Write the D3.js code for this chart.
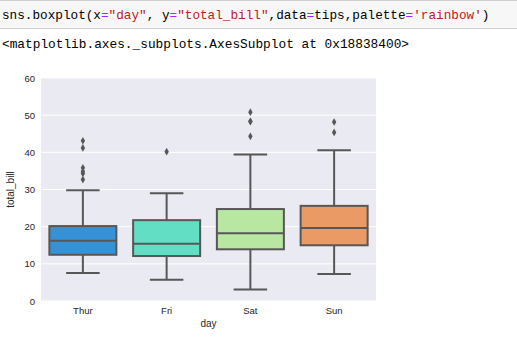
<!DOCTYPE html>
<html>
<head>
<meta charset="utf-8">
<script src="https://cdn.jsdelivr.net/npm/d3@7"></script>
<style>
  html, body { margin: 0; padding: 0; background: #fff; }
  svg { display: block; }
  .mono { font-family: "Liberation Mono", "DejaVu Sans Mono", monospace; }
  .sans { font-family: "Liberation Sans", Arial, sans-serif; }
</style>
</head>
<body>
<svg id="fig" width="517" height="342"></svg>
<script>
// Days on the x axis and their box colours (rainbow palette, desaturated)
const days = ["Thur", "Fri", "Sat", "Sun"];
const boxColors = ["#3592d7", "#61dec3", "#b7e7a1", "#e99a65"];

// Box statistics of total_bill for each day
const whiskerLow = [7.51, 5.75, 3.07, 7.25];
const q1 = [12.44, 12.10, 13.91, 14.99];
const median = [16.20, 15.38, 18.24, 19.63];
const q3 = [20.16, 21.75, 24.74, 25.60];
const whiskerHigh = [29.80, 28.97, 39.42, 40.55];
const outliers = [
  [32.68, 34.30, 34.83, 35.83, 41.19, 43.11],
  [40.17],
  [44.30, 48.27, 48.33, 50.81],
  [45.35, 48.17]
];

const yTicks = [0, 10, 20, 30, 40, 50, 60];

const svg = d3.select("#fig");

// Notebook input cell
svg.append("rect").attr("x", 0).attr("y", 0).attr("width", 517).attr("height", 28)
  .attr("fill", "#f7f7f7");
svg.append("line").attr("x1", 0).attr("x2", 517).attr("y1", 0.5).attr("y2", 0.5)
  .attr("stroke", "#cfcfcf");
svg.append("line").attr("x1", 0).attr("x2", 517).attr("y1", 28.5).attr("y2", 28.5)
  .attr("stroke", "#cfcfcf");

const codeParts = [
  ["sns.boxplot(x", "#000"], ["=", "#aa22ff"], ["\"day\"", "#ba2121"],
  [", y", "#000"], ["=", "#aa22ff"], ["\"total_bill\"", "#ba2121"],
  [",data", "#000"], ["=", "#aa22ff"], ["tips,palette", "#000"],
  ["=", "#aa22ff"], ["'rainbow'", "#ba2121"], [")", "#000"]
];
const code = svg.append("text").attr("class", "mono").attr("x", 2).attr("y", 19)
  .attr("font-size", "12.7px");
codeParts.forEach(([t, c]) => code.append("tspan").attr("fill", c).text(t));

svg.append("text").attr("class", "mono").attr("x", 2).attr("y", 48)
  .attr("font-size", "12.8px").attr("fill", "#000")
  .text("<matplotlib.axes._subplots.AxesSubplot at 0x18838400>");

// Plot area
const plot = { left: 41, right: 376, top: 78, bottom: 301 };

const x = d3.scaleBand().domain(days).range([plot.left, plot.right]).padding(0);
const y = d3.scaleLinear().domain([0, 60]).range([plot.bottom, plot.top]);

svg.append("rect").attr("x", plot.left).attr("y", plot.top)
  .attr("width", plot.right - plot.left).attr("height", plot.bottom - plot.top)
  .attr("fill", "#eaeaf2");

// Horizontal grid lines
svg.append("g").selectAll("line").data(yTicks).join("line")
  .attr("x1", plot.left).attr("x2", plot.right)
  .attr("y1", d => y(d)).attr("y2", d => y(d))
  .attr("stroke", "#fff").attr("stroke-width", 1);

// Axes (labels only, no tick marks or spines)
const yAxis = svg.append("g").attr("transform", `translate(${plot.left},0)`)
  .call(d3.axisLeft(y).tickValues(yTicks).tickSize(0).tickPadding(6));
const xAxis = svg.append("g").attr("transform", `translate(0,${plot.bottom})`)
  .call(d3.axisBottom(x).tickSize(0).tickPadding(6));
[yAxis, xAxis].forEach(g => {
  g.select(".domain").remove();
  g.selectAll("text").attr("font-family", "Liberation Sans, Arial, sans-serif")
    .attr("font-size", "9.5px").attr("fill", "#262626");
});

svg.append("text").attr("class", "sans")
  .attr("transform", `translate(14,${(plot.top + plot.bottom) / 2}) rotate(-90)`)
  .attr("text-anchor", "middle").attr("font-size", "10px").attr("fill", "#262626")
  .text("total_bill");
svg.append("text").attr("class", "sans")
  .attr("x", (plot.left + plot.right) / 2).attr("y", 327)
  .attr("text-anchor", "middle").attr("font-size", "10px").attr("fill", "#262626")
  .text("day");

// Boxes
const edge = "#575757";
const boxW = x.bandwidth() * 0.8;
const capW = boxW / 2;

days.forEach((d, i) => {
  const cx = x(d) + x.bandwidth() / 2;
  const g = svg.append("g");
  // whiskers
  g.append("line").attr("x1", cx).attr("x2", cx)
    .attr("y1", y(whiskerLow[i])).attr("y2", y(q1[i]))
    .attr("stroke", edge).attr("stroke-width", 2);
  g.append("line").attr("x1", cx).attr("x2", cx)
    .attr("y1", y(q3[i])).attr("y2", y(whiskerHigh[i]))
    .attr("stroke", edge).attr("stroke-width", 2);
  // caps
  [whiskerLow[i], whiskerHigh[i]].forEach(v => {
    g.append("line").attr("x1", cx - capW / 2).attr("x2", cx + capW / 2)
      .attr("y1", y(v)).attr("y2", y(v))
      .attr("stroke", edge).attr("stroke-width", 2);
  });
  // box
  g.append("rect").attr("x", cx - boxW / 2).attr("y", y(q3[i]))
    .attr("width", boxW).attr("height", y(q1[i]) - y(q3[i]))
    .attr("fill", boxColors[i]).attr("stroke", edge).attr("stroke-width", 2);
  // median
  g.append("line").attr("x1", cx - boxW / 2).attr("x2", cx + boxW / 2)
    .attr("y1", y(median[i])).attr("y2", y(median[i]))
    .attr("stroke", edge).attr("stroke-width", 2);
  // outliers as diamonds
  g.selectAll("path.fl").data(outliers[i]).join("path")
    .attr("d", d3.symbol(d3.symbolDiamond, 17))
    .attr("transform", v => `translate(${cx},${y(v)})`)
    .attr("fill", edge);
});
</script>
</body>
</html>
